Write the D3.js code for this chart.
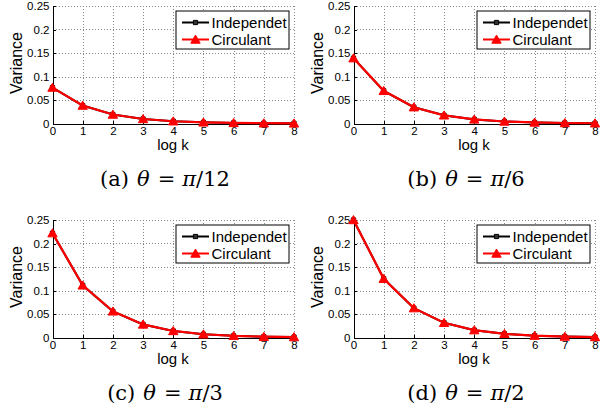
<!DOCTYPE html>
<html>
<meta charset="utf-8">
<style>
body { margin: 0; background: #fff; }
.tick text { font: 11.5px "Liberation Sans", Arial, sans-serif; fill: #000; }
.grid line { stroke: #888; stroke-dasharray: 1,2; shape-rendering: crispEdges; }
.axis path, .axis line { stroke: #000; shape-rendering: crispEdges; }
</style>
<body>
<script src="https://d3js.org/d3.v7.min.js"></script>
<script>
// log k positions
var logK = [0, 1, 2, 3, 4, 5, 6, 7, 8];
var yTicks = [0, 0.05, 0.1, 0.15, 0.2, 0.25];
var seriesNames = ["Independet", "Circulant"];

// variance per panel
var indepA = [0.0764, 0.0382, 0.0191, 0.0096, 0.0048, 0.0024, 0.0012, 0.0006, 0.0003];
var circA  = [0.0764, 0.0382, 0.0191, 0.0096, 0.0048, 0.0024, 0.0012, 0.0006, 0.0003];
var indepB = [0.139, 0.0695, 0.0347, 0.0174, 0.0087, 0.0043, 0.0022, 0.0011, 0.0005];
var circB  = [0.139, 0.0695, 0.0347, 0.0174, 0.0087, 0.0043, 0.0022, 0.0011, 0.0005];
var indepC = [0.222, 0.111, 0.0556, 0.0278, 0.0139, 0.0069, 0.0035, 0.0017, 0.0009];
var circC  = [0.222, 0.111, 0.0556, 0.0278, 0.0139, 0.0069, 0.0035, 0.0017, 0.0009];
var indepD = [0.25, 0.125, 0.0625, 0.0313, 0.0156, 0.0078, 0.0039, 0.002, 0.001];
var circD  = [0.25, 0.125, 0.0625, 0.0313, 0.0156, 0.0078, 0.0039, 0.002, 0.001];

var captions = [
  {lab: "(a)", den: "12"},
  {lab: "(b)", den: "6"},
  {lab: "(c)", den: "3"},
  {lab: "(d)", den: "2"}
];

var panels = [
  {ox: 0,   oy: 0,   indep: indepA, circ: circA},
  {ox: 301, oy: 0,   indep: indepB, circ: circB},
  {ox: 0,   oy: 214, indep: indepC, circ: circC},
  {ox: 301, oy: 214, indep: indepD, circ: circD}
];

var svg = d3.select("body").append("svg")
    .attr("width", 605)
    .attr("height", 413);

var plotL = 52.5, plotR = 294, plotT = 6, plotB = 123.5;

var xScale = d3.scaleLinear().domain([0, 8]).range([plotL, plotR]);
var yScale = d3.scaleLinear().domain([0, 0.25]).range([plotB, plotT]);

var triangle = d3.symbol().type(d3.symbolTriangle).size(38);
var square = d3.symbol().type(d3.symbolSquare).size(18);

panels.forEach(function(p, i) {
  var g = svg.append("g").attr("transform", "translate(" + p.ox + "," + p.oy + ")");

  // dotted grid
  var grid = g.append("g").attr("class", "grid");
  grid.selectAll("line.v").data(logK).enter().append("line")
      .attr("class", "v")
      .attr("x1", function(d) { return Math.round(xScale(d)) + 0.5; })
      .attr("x2", function(d) { return Math.round(xScale(d)) + 0.5; })
      .attr("y1", plotT).attr("y2", plotB);
  grid.selectAll("line.h").data(yTicks).enter().append("line")
      .attr("class", "h")
      .attr("x1", plotL).attr("x2", plotR)
      .attr("y1", function(d) { return Math.round(yScale(d)) + 0.5; })
      .attr("y2", function(d) { return Math.round(yScale(d)) + 0.5; });

  // axes, ticks point inward like matlab
  g.append("g").attr("class", "axis")
    .attr("transform", "translate(0," + plotB + ")")
    .call(d3.axisBottom(xScale).tickValues(logK).tickSize(-3).tickPadding(3).tickSizeOuter(0));
  g.append("g").attr("class", "axis")
    .attr("transform", "translate(" + plotL + ",0)")
    .call(d3.axisLeft(yScale).tickValues(yTicks).tickSize(-3).tickPadding(3).tickSizeOuter(0)
      .tickFormat(function(d) { return String(+d.toFixed(2)); }));

  // axis labels
  g.append("text")
    .attr("x", 173).attr("y", 149.5)
    .attr("text-anchor", "middle")
    .style("font", "15px 'Liberation Sans', Arial, sans-serif")
    .text("log k");
  g.append("text")
    .attr("transform", "translate(21.5,63) rotate(-90)")
    .attr("text-anchor", "middle")
    .style("font", "16px 'Liberation Sans', Arial, sans-serif")
    .text("Variance");

  var line = d3.line()
    .x(function(d, j) { return xScale(logK[j]); })
    .y(function(d) { return yScale(d); });

  // independent: black with squares
  g.append("path").datum(p.indep)
    .attr("d", line).attr("fill", "none")
    .attr("stroke", "#000").attr("stroke-width", 2);
  g.selectAll(".sq").data(p.indep).enter().append("path")
    .attr("class", "sq")
    .attr("d", square)
    .attr("transform", function(d, j) { return "translate(" + xScale(logK[j]) + "," + yScale(d) + ")"; })
    .attr("fill", "#333").attr("stroke", "#000").attr("stroke-width", 1);

  // circulant: red with triangles
  g.append("path").datum(p.circ)
    .attr("d", line).attr("fill", "none")
    .attr("stroke", "#f00").attr("stroke-width", 2.2);
  g.selectAll(".tri").data(p.circ).enter().append("path")
    .attr("class", "tri")
    .attr("d", triangle)
    .attr("transform", function(d, j) { return "translate(" + xScale(logK[j]) + "," + (yScale(d) + 1) + ")"; })
    .attr("fill", "#f00").attr("stroke", "#f00").attr("stroke-width", 1);

  // legend
  var lx = 176, ly = 11, lw = 113, lh = 38;
  g.append("rect")
    .attr("x", lx).attr("y", ly).attr("width", lw).attr("height", lh)
    .attr("fill", "#fff").attr("stroke", "#000").attr("stroke-width", 1);
  seriesNames.forEach(function(name, k) {
    var yy = ly + 11.5 + k * 17;
    var col = k === 0 ? "#000" : "#f00";
    g.append("line")
      .attr("x1", lx + 6).attr("x2", lx + 33)
      .attr("y1", yy).attr("y2", yy)
      .attr("stroke", col).attr("stroke-width", 2);
    g.append("path")
      .attr("d", k === 0 ? square : triangle)
      .attr("transform", "translate(" + (lx + 19.5) + "," + (yy + (k === 0 ? 0 : 1)) + ")")
      .attr("fill", k === 0 ? "#333" : "#f00").attr("stroke", col);
    g.append("text")
      .attr("x", lx + 35.5).attr("y", yy + 5.3)
      .style("font", "15px 'Liberation Sans', Arial, sans-serif")
      .text(name);
  });

  // sub caption
  var c = captions[i];
  var t = g.append("text")
    .attr("x", 165).attr("y", 185.5)
    .attr("text-anchor", "middle")
    .style("font", "21px 'DejaVu Serif', 'Liberation Serif', serif");
  t.append("tspan").text(c.lab);
  t.append("tspan").attr("dx", 8).style("font-style", "italic").text("θ");
  t.append("tspan").attr("dx", 8).text("=");
  t.append("tspan").attr("dx", 7).style("font-style", "italic").text("π");
  t.append("tspan").text("/" + c.den);
});
</script>
</body>
</html>
